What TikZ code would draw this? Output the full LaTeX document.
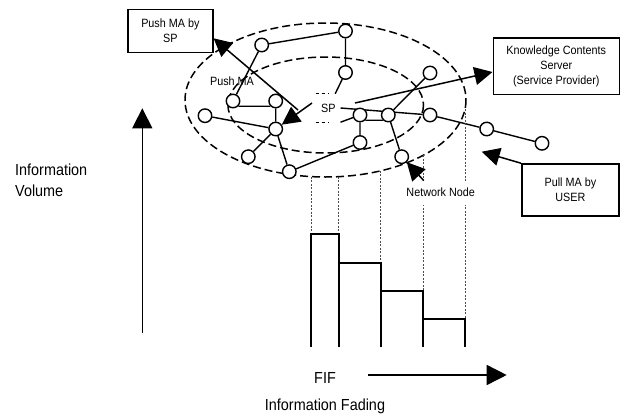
\documentclass[tikz,border=0pt]{standalone}
\usepackage{fontspec}
\setmainfont[FakeStretch=0.9]{Liberation Sans}
\usetikzlibrary{positioning, arrows.meta, backgrounds}

\begin{document}
\begin{tikzpicture}[x=1pt,y=-1pt,
    vertex/.style={circle,draw,fill=white,line width=1.4pt,minimum size=13.5pt,inner sep=0pt},
    link/.style={line width=1.4pt},
    ring/.style={line width=1.5pt,dash pattern=on 8pt off 4pt},
    box/.style={draw,line width=1.6pt,align=center,font=\fontsize{12}{15}\selectfont},
    fat/.style={line width=1.5pt,-{Triangle[length=18pt,width=18pt]}},
    guide/.style={black!70,line width=0.7pt,dash pattern=on 2pt off 1.5pt},
    bar/.style={line width=1.7pt},
    lbl/.style={font=\fontsize{12}{15}\selectfont,inner sep=1pt},
    big/.style={font=\fontsize{16}{20.7}\selectfont,inner sep=0pt}]
    \useasboundingbox (0,0) rectangle (623,415);

    % boxes
    \node[box,minimum width=84.7pt,minimum height=43pt] (pushbox) at (170.4,30.8) {Push MA by\\SP};
    \node[box,minimum width=126pt,minimum height=56.6pt] (kcs) at (556.3,66) {Knowledge Contents\\Server\\(Service Provider)};
    \node[box,minimum width=97.3pt,minimum height=52pt] (pull) at (570.4,190) {Pull MA by\\USER};

    % network nodes
    \node[vertex] (a) at (261.7,45) {};
    \node[vertex] (b) at (345.5,31) {};
    \node[vertex] (c) at (345.5,72.5) {};
    \node[vertex] (d) at (233,101) {};
    \node[vertex] (e) at (275.7,101) {};
    \node[vertex] (f) at (205,115.7) {};
    \node[vertex] (g) at (275.7,129) {};
    \node[vertex] (h) at (248.3,156.7) {};
    \node[vertex] (i) at (289.3,171.7) {};
    \node[vertex] (j) at (360,115) {};
    \node[vertex] (k) at (388.3,115) {};
    \node[vertex] (l) at (360,142.5) {};
    \node[vertex] (m) at (430,73) {};
    \node[vertex] (n) at (430,115) {};
    \node[vertex] (o) at (486.7,129) {};
    \node[vertex] (p) at (542,143.3) {};
    \node[vertex] (q) at (401.7,156.7) {};
    \node[lbl,fill=white,minimum width=24pt,minimum height=28pt] (sp) at (328.3,108) {SP};
    \draw[line width=1pt,dash pattern=on 3pt off 3pt] (sp.north west) -- (sp.north) (sp.south west) -- (sp.south);

    \begin{scope}[on background layer]
        \draw[ring] (325.5,100) ellipse [x radius=140.5, y radius=77];
        \draw[ring] (325.7,105) ellipse [x radius=97.8, y radius=48];
        \draw[link] (a) -- (b) (b) -- (c) (c) -- (sp) (a) -- (d)
            (d.south east) -- (e.south west) (e) -- (g) (f) -- (g)
            (g) -- (h) (g) -- (i) (i) -- (l) (j) -- (l)
            (j.south east) -- (k.south west) (sp.east) -- (n) (sp.south east) -- (j)
            (k) -- (m) (k) -- (q) (n) -- (o) (o) -- (p);
    \end{scope}

    % labels
    \node[lbl] (pushma) at (232,81.7) {Push MA};
    \node[lbl,fill=white,minimum height=24pt] (netlbl) at (440.7,192.7) {Network Node};
    \node[big,align=left,anchor=west] (vol) at (15,180) {Information\\Volume};
    \node[big] (fif) at (325,378.3) {FIF};
    \node[big] (fading) at (325,406.7) {Information Fading};

    % arrows
    \coordinate (spa) at (298,110);
    \coordinate (spb) at (312,103);
    \coordinate (spc) at (355,103);
    \coordinate (pullend) at (481.7,151.7);
    \draw[fat] (spa) -- ([yshift=-7.5pt]pushbox.east);
    \draw[fat] (spb) -- (g);
    \draw[fat] (spc) -- ([yshift=-6pt]kcs.west);
    \draw[fat] (pull.north west) -- (pullend);
    \draw[fat] ([xshift=-17pt]netlbl.north) -- (q);

    % axes
    \coordinate (vfoot) at (142.3,332.7);
    \coordinate (vhead) at (142.3,108.3);
    \coordinate (ffoot) at (368.3,375);
    \coordinate (fhead) at (506.7,375);
    \draw[fat,-{Triangle[length=20pt,width=20pt]}] (vfoot) -- (vhead);
    \draw[fat,-{Triangle[length=20pt,width=20pt]}] (ffoot) -- (fhead);

    % fading bars
    \begin{scope}[on background layer]
        \foreach \gx/\gy/\gb in {311/176.6/234, 338.7/176.7/234, 380.7/170.8/262.7, 423/155.4/290.7, 465/109.2/318.7}
            \draw[guide] (\gx,\gy) -- (\gx,\gb);
    \end{scope}
    \draw[bar] (311,346.7) -- (311,234) -- (338.7,234) -- (338.7,346.7)
        (338.7,262.7) -- (380.7,262.7) -- (380.7,346.7)
        (380.7,290.7) -- (423,290.7) -- (423,346.7)
        (423,318.7) -- (465,318.7) -- (465,346.7);
\end{tikzpicture}
\end{document}
